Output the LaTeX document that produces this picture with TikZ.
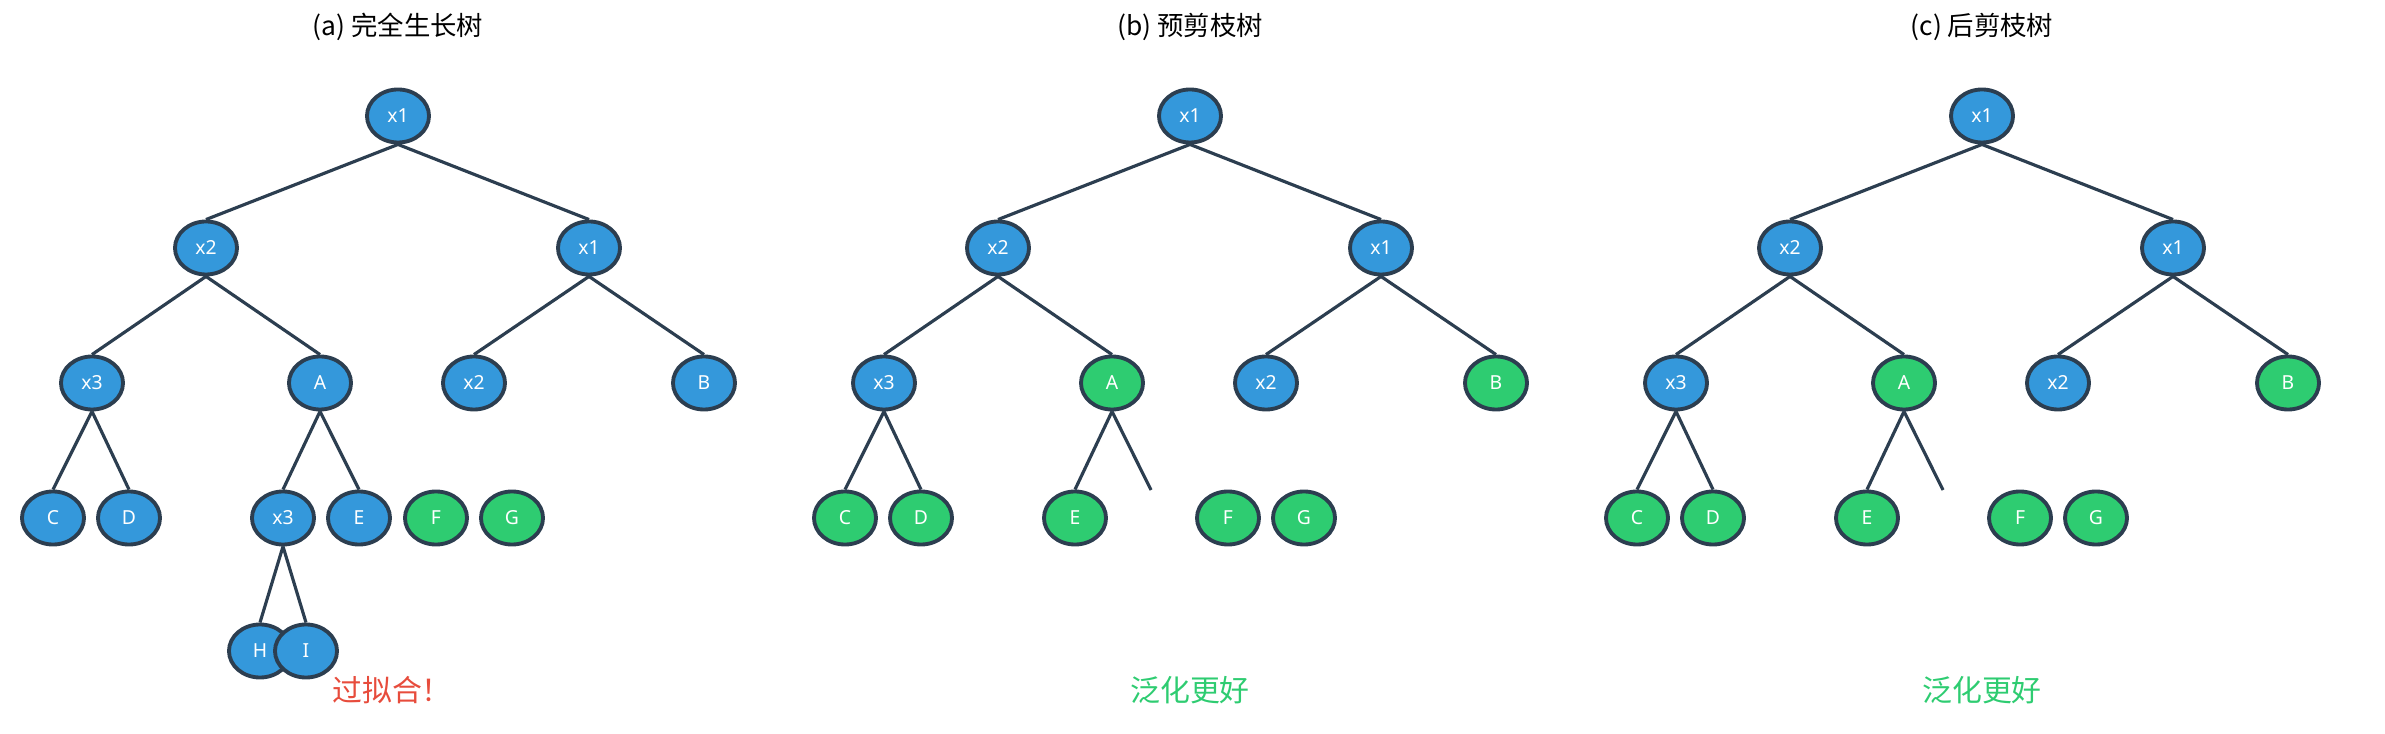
\documentclass[tikz,border=0pt]{standalone}
\usepackage{fontspec}
\setmainfont{Noto Sans}
\newfontfamily\cjk{Noto Sans CJK SC}
\usetikzlibrary{positioning, shapes.geometric}
\definecolor{nodeblue}{HTML}{3498DB}
\definecolor{nodegreen}{HTML}{2ECC71}
\definecolor{edgedark}{HTML}{2C3E50}
\definecolor{warnred}{HTML}{E74C3C}
\begin{document}
\begin{tikzpicture}[x=0.01cm, y=-0.01cm,
		bnode/.style={ellipse, draw=edgedark, line width=1.1pt, fill=nodeblue, text=white,
			minimum width=0.62cm, minimum height=0.53cm, inner sep=0pt,
			font=\fontsize{5.5}{6}\selectfont},
		gnode/.style={bnode, fill=nodegreen},
		edge/.style={draw=edgedark, line width=0.9pt},
		title/.style={font=\cjk\fontsize{7.5}{9}\selectfont},
		verdict/.style={font=\cjk\fontsize{8.5}{10}\selectfont}
	]
		\useasboundingbox (0,0) rectangle (2385,734);
		
		% (a) full tree
		\node[title] (ta) at (398,27) {(a) 完全生长树};
		\node[bnode] (a1) at (398,116) {x1};
		\node[bnode] (a2) at (206,248) {x2};
		\node[bnode] (a3) at (589,248) {x1};
		\node[bnode] (a4) at (92,383) {x3};
		\node[bnode] (a5) at (320,383) {A};
		\node[bnode] (a6) at (474,383) {x2};
		\node[bnode] (a7) at (704,383) {B};
		\node[bnode] (a8) at (53,518) {C};
		\node[bnode] (a9) at (129,518) {D};
		\node[bnode] (a10) at (283,518) {x3};
		\node[bnode] (a11) at (359,518) {E};
		\node[gnode] (a12) at (436,518) {F};
		\node[gnode] (a13) at (512,518) {G};
		\node[bnode] (a14) at (260,651) {H};
		\node[bnode] (a15) at (306,651) {I};
		\node[verdict, text=warnred] (va) at (392,690) {过拟合！};
		
		\draw[edge] (a1.south) -- (a2.north);
		\draw[edge] (a1.south) -- (a3.north);
		\draw[edge] (a2.south) -- (a4.north);
		\draw[edge] (a2.south) -- (a5.north);
		\draw[edge] (a3.south) -- (a6.north);
		\draw[edge] (a3.south) -- (a7.north);
		\draw[edge] (a4.south) -- (a8.north);
		\draw[edge] (a4.south) -- (a9.north);
		\draw[edge] (a5.south) -- (a10.north);
		\draw[edge] (a5.south) -- (a11.north);
		\draw[edge] (a10.south) -- (a14.north);
		\draw[edge] (a10.south) -- (a15.north);
		
		% (b) pre-pruning, (c) post-pruning
		\foreach \t/\dx/\name in {b/792/(b) 预剪枝树, c/1584/(c) 后剪枝树}{
			\begin{scope}[xshift=\dx*0.01cm]
				\node[title] (t\t) at (398,27) {\name};
				\node[bnode] (\t1) at (398,116) {x1};
				\node[bnode] (\t2) at (206,248) {x2};
				\node[bnode] (\t3) at (589,248) {x1};
				\node[bnode] (\t4) at (92,383) {x3};
				\node[gnode] (\t5) at (320,383) {A};
				\node[bnode] (\t6) at (474,383) {x2};
				\node[gnode] (\t7) at (704,383) {B};
				\node[gnode] (\t8) at (53,518) {C};
				\node[gnode] (\t9) at (129,518) {D};
				\node[gnode] (\t10) at (283,518) {E};
				\coordinate (\t11) at (359,490);
				\node[gnode] (\t12) at (436,518) {F};
				\node[gnode] (\t13) at (512,518) {G};
				\node[verdict, text=nodegreen] (v\t) at (398,690) {泛化更好};
				
				\draw[edge] (\t1.south) -- (\t2.north);
				\draw[edge] (\t1.south) -- (\t3.north);
				\draw[edge] (\t2.south) -- (\t4.north);
				\draw[edge] (\t2.south) -- (\t5.north);
				\draw[edge] (\t3.south) -- (\t6.north);
				\draw[edge] (\t3.south) -- (\t7.north);
				\draw[edge] (\t4.south) -- (\t8.north);
				\draw[edge] (\t4.south) -- (\t9.north);
				\draw[edge] (\t5.south) -- (\t10.north);
				\draw[edge] (\t5.south) -- (\t11);
			\end{scope}
		}
	\end{tikzpicture}
\end{document}
